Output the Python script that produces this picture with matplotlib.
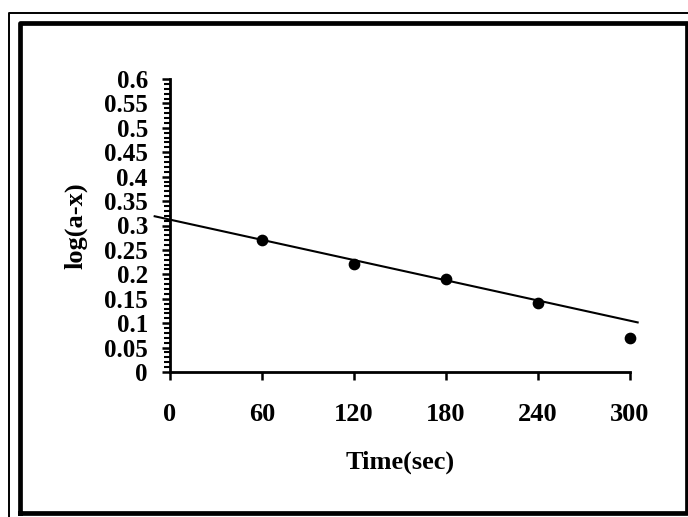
import numpy as np
import matplotlib
matplotlib.use("Agg")
import matplotlib.pyplot as plt
from matplotlib.lines import Line2D
from matplotlib.ticker import MultipleLocator

# measured data
time_sec = [60, 120, 180, 240, 300]
log_ax = [0.270, 0.221, 0.191, 0.142, 0.070]

# straight-line fit drawn through the points
trend_intercept = 0.312
trend_slope = -0.00069
trend_t = [-10, 305]

x_ticks = [0, 60, 120, 180, 240, 300]
y_ticks = [0, 0.05, 0.1, 0.15, 0.2, 0.25, 0.3, 0.35, 0.4, 0.45, 0.5, 0.55, 0.6]
y_tick_labels = ["0", "0.05", "0.1", "0.15", "0.2", "0.25", "0.3", "0.35",
                 "0.4", "0.45", "0.5", "0.55", "0.6"]

plt.rcParams['font.family'] = ['Liberation Serif', 'DejaVu Serif']
plt.rcParams['font.weight'] = 'bold'

W, H = 688, 517
fig = plt.figure(figsize=(W / 100, H / 100), dpi=100)
ax = fig.add_axes([170 / W, 1 - 372 / H, 460 / W, 293 / H])

ax.scatter(time_sec, log_ax, s=55, color='black', zorder=3, clip_on=False)
tt = np.array(trend_t, dtype=float)
ax.plot(tt, trend_intercept + trend_slope * tt, color='black', lw=1.5, clip_on=False)

ax.set_xlim(0, 300)
ax.set_ylim(0, 0.6)
ax.set_xticks(x_ticks)
ax.set_xticklabels([str(v) for v in x_ticks], fontsize=19, fontweight='bold')
ax.set_yticks(y_ticks)
ax.set_yticklabels(y_tick_labels, fontsize=18, fontweight='bold')
ax.yaxis.set_minor_locator(MultipleLocator(0.01))

for s in ['top', 'right']:
    ax.spines[s].set_visible(False)
ax.spines['left'].set_linewidth(2)
ax.spines['bottom'].set_linewidth(2)
ax.tick_params(axis='x', direction='out', length=6, width=1.8, pad=16)
ax.tick_params(axis='y', which='major', direction='out', length=6, width=1.8, pad=10)
ax.tick_params(axis='y', which='minor', direction='out', length=4.5, width=1.5)

ax.set_xlabel("Time(sec)", fontsize=19, fontweight='bold', labelpad=18)
ax.set_ylabel("log(a-x)", fontsize=19, fontweight='bold', labelpad=12)

# double frame around the whole chart
def px_line(xs, ys, lw):
    fig.add_artist(Line2D([x / W for x in xs], [1 - y / H for y in ys],
                          transform=fig.transFigure, color='black', lw=lw,
                          solid_capstyle='projecting'))

px_line([9, 9, W + 5], [H + 5, 12.5, 12.5], 1.4)
px_line([19.5, 19.5, 686.5, 686.5, 19.5], [513, 23, 23, 513, 513], 3.4)

fig.savefig("out.png", dpi=100)
